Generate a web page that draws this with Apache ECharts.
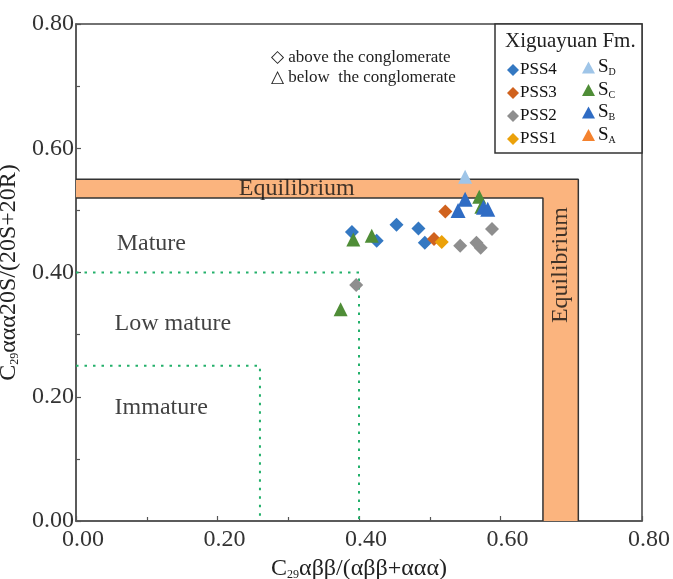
<!DOCTYPE html>
<html>
<head>
<meta charset="utf-8">
<script src="https://cdn.jsdelivr.net/npm/echarts@6/dist/echarts.min.js"></script>
<style>html,body{margin:0;padding:0;background:#fff;}#c{width:673px;height:579px;}</style>
</head>
<body>
<div id="c"></div>
<script>
// ---- data ----
const pss4 = [[0.390,0.465],[0.425,0.451],[0.453,0.477],[0.484,0.471],[0.493,0.448]];
const pss3 = [[0.522,0.498],[0.506,0.454]];
const pss2 = [[0.396,0.380],[0.543,0.443],[0.566,0.448],[0.572,0.440],[0.588,0.470]];
const pss1 = [[0.517,0.449]];
const sD = [[0.550,0.554]];
const sC = [[0.374,0.341],[0.392,0.453],[0.418,0.459],[0.570,0.522],[0.573,0.506]];
const sB = [[0.550,0.518],[0.540,0.500],[0.576,0.505],[0.582,0.502]];
const sA = [];
const axisTicks = [0, 0.2, 0.4, 0.6, 0.8];
const eqBandY = [0.52, 0.55];
const eqBandX = [0.66, 0.71];
const lowMatureLimit = [0.40, 0.40];
const immatureLimit = [0.26, 0.25];
const regionLabels = [
  {name:'Mature', value:[0.0575,0.446]},
  {name:'Low mature', value:[0.0545,0.317]},
  {name:'Immature', value:[0.0545,0.182]}
];

const SERIF = '"Liberation Serif","Times New Roman",serif';
const chart = echarts.init(document.getElementById('c'));

function scatter(name, data, symbol, color, size) {
  return {type:'scatter', name, data, symbol, symbolSize:size, z:5,
    itemStyle:{color, opacity:1}, silent:true};
}
function line(data, style) {
  return {type:'line', data, symbol:'none', silent:true, z:3, lineStyle:style, legendHoverLink:false};
}

const axisCommon = {
  type:'value', min:0, max:0.8, interval:0.2,
  axisLine:{show:true, onZero:false, lineStyle:{color:'#555', width:1.5}},
  axisTick:{show:true, inside:true, length:5, lineStyle:{color:'#555', width:1.2}},
  minorTick:{show:true, splitNumber:2, length:4, lineStyle:{color:'#555', width:1.2}},
  splitLine:{show:false},
  axisLabel:{fontFamily:SERIF, fontSize:24, color:'#333', formatter:v=>v.toFixed(2)}
};
const titleRich = {n:{fontFamily:SERIF, fontSize:24, color:'#222'}, s:{fontFamily:SERIF, fontSize:12, color:'#222', verticalAlign:'bottom'}};

const option = {
  animation:false,
  grid:{left:76, right:31, top:24, bottom:58, containLabel:false, outerBoundsMode:'none',
        show:true, borderColor:'#444', borderWidth:1.5, backgroundColor:'transparent'},
  xAxis:Object.assign({}, axisCommon, {
    axisLabel:Object.assign({}, axisCommon.axisLabel, {margin:7, padding:[0,0,0,14]}),
    name:'{n|C}{s|29}{n|αββ/(αββ+ααα)}', nameLocation:'middle', nameGap:31,
    nameTextStyle:{rich:titleRich}
  }),
  yAxis:Object.assign({}, axisCommon, {
    axisLabel:Object.assign({}, axisCommon.axisLabel, {margin:2}),
    name:'{n|C}{s|29}{n|ααα20S/(20S+20R)}', nameLocation:'middle', nameGap:46, nameRotate:90,
    nameTextStyle:{rich:titleRich}
  }),
  legend:[
    {data:['PSS4','PSS3','PSS2','PSS1'], orient:'vertical', left:502, top:56, itemWidth:12, itemHeight:12, itemGap:5,
     textStyle:{fontFamily:SERIF, fontSize:17, color:'#111', lineHeight:18, padding:[0,0,0,-4]}, selectedMode:false, z:20},
    {data:['S_D','S_C','S_B','S_A'], orient:'vertical', left:577, top:53, itemWidth:13, itemHeight:12, itemGap:3,
     formatter:n=>'{a|S}{b|'+n.slice(2)+'}', selectedMode:false, z:20,
     textStyle:{padding:[0,0,0,-2], rich:{a:{fontFamily:SERIF, fontSize:19, color:'#111', lineHeight:20}, b:{fontFamily:SERIF, fontSize:10, color:'#111', verticalAlign:'bottom', lineHeight:20}}}}
  ],
  graphic:[
    {type:'rect', shape:{x:495, y:24, width:147, height:129}, style:{fill:'#fff', stroke:'#333', lineWidth:1.5}, z:10},
    {type:'text', left:505, top:31, style:{text:'Xiguayuan Fm.', font:'21px '+SERIF, fill:'#222'}, z:11},
    {type:'text', left:271, top:49, style:{text:'◇ above the conglomerate', font:'17px '+SERIF, fill:'#222'}, z:11},
    {type:'text', left:271, top:69, style:{text:'△ below  the conglomerate', font:'17px '+SERIF, fill:'#222'}, z:11}
  ],
  series:[
    {type:'line', data:[], silent:true, markArea:{silent:true, itemStyle:{color:'#fbb47e', borderWidth:0},
      data:[
        [{xAxis:0, yAxis:eqBandY[0]},{xAxis:eqBandX[1], yAxis:eqBandY[1]}],
        [{xAxis:eqBandX[0], yAxis:0},{xAxis:eqBandX[1], yAxis:eqBandY[0]}]
      ]}},
    line([[0,eqBandY[1]],[eqBandX[1],eqBandY[1]],[eqBandX[1],0]], {color:'#333', width:1.5}),
    line([[0,eqBandY[0]],[eqBandX[0],eqBandY[0]],[eqBandX[0],0]], {color:'#333', width:1.5}),
    line([[0,lowMatureLimit[1]],[lowMatureLimit[0],lowMatureLimit[1]],[lowMatureLimit[0],0]], {color:'#22b06a', width:2, type:[2.5,6]}),
    line([[0,immatureLimit[1]],[immatureLimit[0],immatureLimit[1]],[immatureLimit[0],0]], {color:'#22b06a', width:2, type:[2.5,6]}),
    {type:'scatter', data:regionLabels, symbolSize:0, silent:true, z:4,
      label:{show:true, position:'right', distance:0, formatter:p=>p.name, fontFamily:SERIF, fontSize:24, color:'#111'}},
    {type:'scatter', data:[{name:'Equilibrium', value:[(0+eqBandX[1])/2-0.043, (eqBandY[0]+eqBandY[1])/2]}], symbolSize:0, silent:true, z:4,
      label:{show:true, position:'inside', formatter:p=>p.name, fontFamily:SERIF, fontSize:24, color:'#111'}},
    {type:'scatter', data:[{name:'Equilibrium', value:[(eqBandX[0]+eqBandX[1])/2, 0.412]}], symbolSize:0, silent:true, z:4,
      label:{show:true, position:'inside', rotate:90, formatter:p=>p.name, fontFamily:SERIF, fontSize:24, color:'#111'}},
    scatter('PSS4', pss4, 'diamond', '#3478c2', 14),
    scatter('PSS3', pss3, 'diamond', '#d0621e', 14),
    scatter('PSS2', pss2, 'diamond', '#8e8e8e', 14),
    scatter('PSS1', pss1, 'diamond', '#eba10a', 14),
    scatter('S_D', sD, 'triangle', '#9fc5e8', 14),
    scatter('S_C', sC, 'triangle', '#4f8d37', 14),
    scatter('S_B', sB, 'triangle', '#2f6cc4', 15),
    scatter('S_A', sA, 'triangle', '#f4822e', 14)
  ]
};
chart.setOption(option);
</script>
</body>
</html>
